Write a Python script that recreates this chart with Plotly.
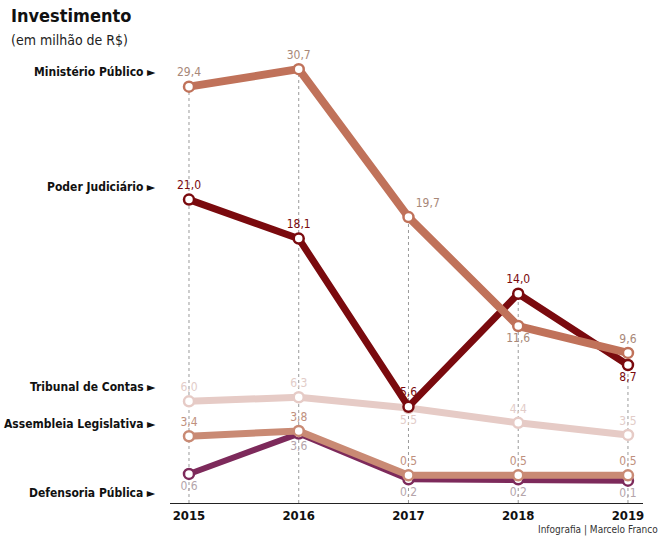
import plotly.graph_objects as go

years = [2015, 2016, 2017, 2018, 2019]
series_names = ["Ministério Público", "Poder Judiciário", "Tribunal de Contas",
                "Assembleia Legislativa", "Defensoria Pública"]
ministerio = [29.4, 30.7, 19.7, 11.6, 9.6]
judiciario = [21.0, 18.1, 5.6, 14.0, 8.7]
tribunal = [6.0, 6.3, 5.5, 4.4, 3.5]
assembleia = [3.4, 3.8, 0.5, 0.5, 0.5]
defensoria = [0.6, 3.6, 0.2, 0.2, 0.1]

FONT = "Liberation Sans Narrow, DejaVu Sans Condensed, Arial Narrow, sans-serif"
Y_MIN, Y_MAX = -1.56, 31.38

data = {
    "Ministério Público": ministerio,
    "Poder Judiciário": judiciario,
    "Tribunal de Contas": tribunal,
    "Assembleia Legislativa": assembleia,
    "Defensoria Pública": defensoria,
}
style = {
    "Ministério Público": dict(color="#C0725A", width=8, text="#A88878",
                               pos=["top center", "top center", "top right", "bottom center", "top center"],
                               lab_off=1.1),
    "Poder Judiciário": dict(color="#7A0A0E", width=7, text="#7A0A0E",
                             pos=["top center"] * 4 + ["bottom center"], lab_off=0.9),
    "Tribunal de Contas": dict(color="#E6CBC6", width=7, text="#E2CCC8",
                               pos=["top center", "top center", "bottom center", "top center", "top center"],
                               lab_off=1.1),
    "Assembleia Legislativa": dict(color="#C98A74", width=7, text="#C0907E",
                                   pos=["top center"] * 5, lab_off=0.9),
    "Defensoria Pública": dict(color="#7D2A5B", width=6, text="#B4A4AA",
                               pos=["bottom center"] * 5, lab_off=-1.4),
}
draw_order = ["Tribunal de Contas", "Defensoria Pública", "Assembleia Legislativa",
              "Poder Judiciário", "Ministério Público"]

fig = go.Figure()

# vertical dotted guides from highest value to the axis
for i, yr in enumerate(years):
    top = max(v[i] for v in data.values())
    fig.add_trace(go.Scatter(x=[yr, yr], y=[Y_MIN, top], mode="lines",
                             line=dict(color="#9a9a9a", width=1, dash="dot"),
                             hoverinfo="skip", showlegend=False))

for name in draw_order:
    st = style[name]
    vals = data[name]
    fig.add_trace(go.Scatter(
        x=years, y=vals, mode="lines+markers+text",
        line=dict(color=st["color"], width=st["width"]),
        marker=dict(size=10, color="white", line=dict(color=st["color"], width=2.5)),
        text=[f"{v:.1f}".replace(".", ",") for v in vals],
        textposition=st["pos"],
        textfont=dict(family=FONT, size=12, color=st["text"]),
        showlegend=False, name=name, cliponaxis=False))

annotations = []
for name in series_names:
    st = style[name]
    annotations.append(dict(
        x=-0.026, xref="paper", y=data[name][0] + st["lab_off"], yref="y",
        xanchor="right", yanchor="middle", showarrow=False,
        text=f"<b>{name}</b> ►", font=dict(family=FONT, size=12, color="#111111")))

annotations += [
    dict(x=-0.34, xref="paper", y=1.128, yref="paper", xanchor="left", yanchor="top",
         showarrow=False, text="<b>Investimento</b>",
         font=dict(family=FONT, size=18, color="#111111")),
    dict(x=-0.34, xref="paper", y=1.045, yref="paper", xanchor="left", yanchor="middle",
         showarrow=False, text="(em milhão de R$)",
         font=dict(family=FONT, size=14, color="#222222")),
    dict(x=1.036, xref="paper", y=-0.062, yref="paper", xanchor="right", yanchor="middle",
         showarrow=False, text="Infografia | Marcelo Franco",
         font=dict(family=FONT, size=10, color="#333333")),
]

fig.update_layout(
    width=663, height=536,
    margin=dict(l=170, r=20, t=60, b=33),
    plot_bgcolor="white", paper_bgcolor="white",
    annotations=annotations,
    xaxis=dict(range=[2014.827, 2019.137], tickvals=years,
               ticktext=[f"<b>{y}</b>" for y in years],
               showgrid=False, zeroline=False, showline=True, linecolor="#222222",
               linewidth=1, ticks="", tickfont=dict(family=FONT, size=13, color="#111111")),
    yaxis=dict(range=[Y_MIN, Y_MAX], visible=False, showgrid=False, zeroline=False),
)

fig.write_html("out.html")
